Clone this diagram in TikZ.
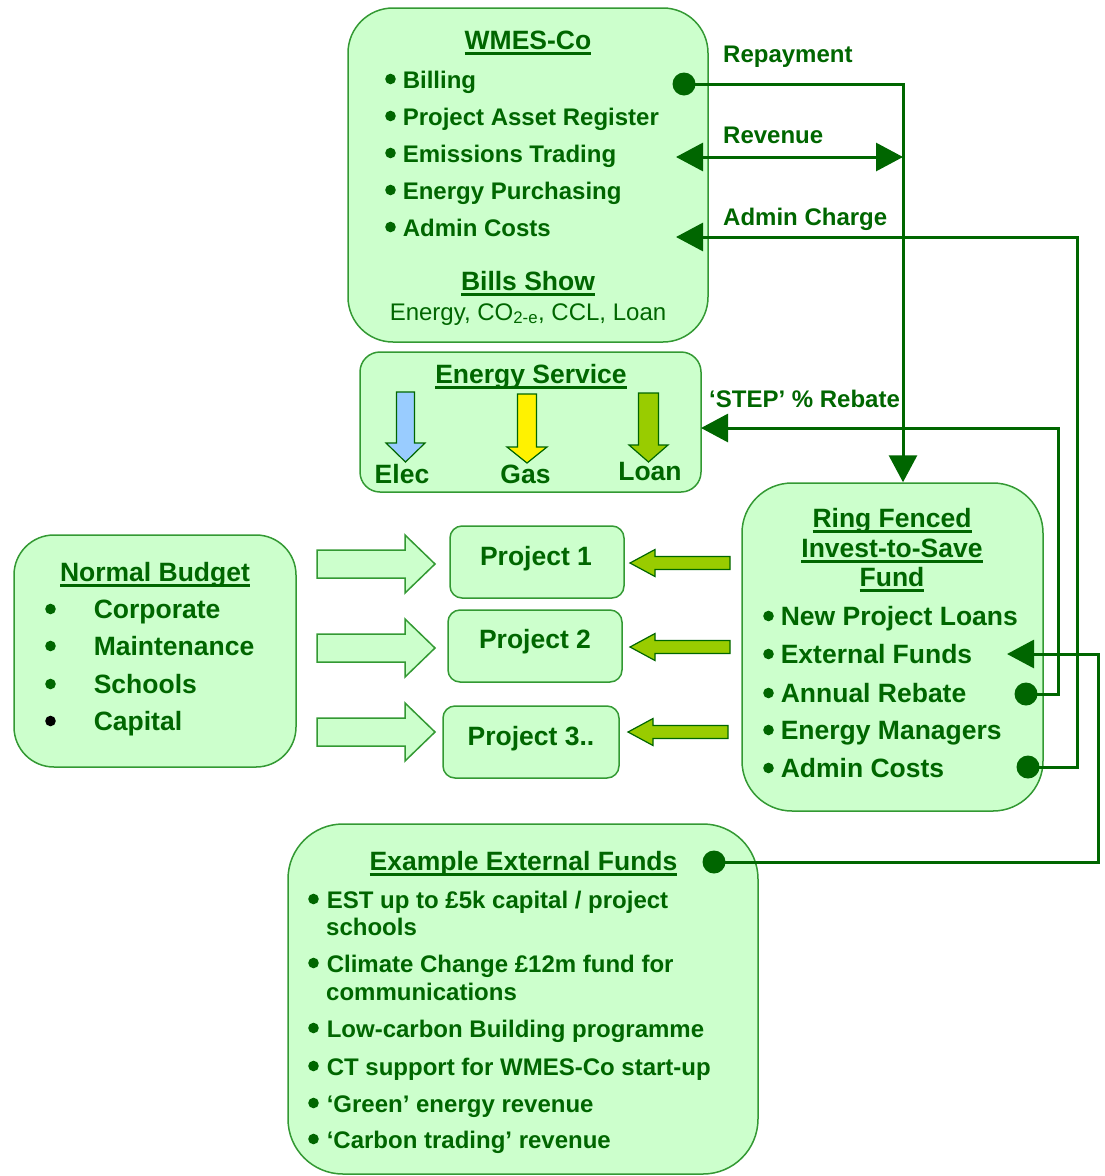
\documentclass[tikz,border=0pt]{standalone}
\usepackage{fontspec}
\setmainfont{Liberation Sans}
\usetikzlibrary{arrows.meta}
\definecolor{dkg}{HTML}{006600}
\definecolor{bord}{HTML}{339933}
\definecolor{fillg}{HTML}{CCFFCC}
\definecolor{lime}{HTML}{99CC00}
\definecolor{elecc}{HTML}{99CCFF}
\newcommand{\myul}[1]{\leavevmode\setbox0=\hbox{#1}\rlap{\color{dkg}\rule[-5.5pt]{\wd0}{2.4pt}}\box0}
\newcommand{\bul}[2][dkg]{\tikz[baseline=0pt]\fill[#1] (0pt,9pt) circle[radius=5.3pt];\hspace{#2}}
\tikzset{
  box/.style={draw=bord, fill=fillg, line width=1.5pt, inner sep=0pt},
  ttl/.style={inner sep=0pt, anchor=base, text=dkg, font=\fontsize{26.5}{30}\selectfont\bfseries},
  big/.style={inner sep=0pt, anchor=base west, text=dkg, font=\fontsize{26.5}{30}\selectfont\bfseries},
  itm/.style={inner sep=0pt, anchor=base west, text=dkg, font=\fontsize{24}{28}\selectfont\bfseries},
  lbl/.style={inner sep=0pt, anchor=base west, text=dkg, font=\fontsize{24}{28}\selectfont\bfseries},
  conn/.style={color=dkg, line width=3pt},
  tip/.tip={Triangle[length=27pt,width=28pt,color=dkg,fill=dkg]},
  dot/.style={circle, fill=dkg, minimum size=23pt, inner sep=0pt},
  blockR/.style={draw=bord, fill=fillg, line width=1.5pt, line join=miter},
  blockL/.style={draw=dkg, fill=lime, line width=1.2pt, line join=miter},
  blockD/.style={draw=dkg, line width=1.2pt, line join=miter},
}
\begin{document}
\begin{tikzpicture}[x=1pt,y=-1pt]
\useasboundingbox (0,0) rectangle (1105,1176);

% ---------- boxes ----------
\node[box, rounded corners=45pt, minimum width=360pt, minimum height=334pt] (wmes) at (528,175) {};
\node[box, rounded corners=20pt, minimum width=341pt, minimum height=140pt] (esvc) at (530.5,422) {};
\node[box, rounded corners=40pt, minimum width=282pt, minimum height=232pt] (budget) at (155,651) {};
\node[box, rounded corners=12pt, minimum width=174pt, minimum height=72pt] (p1) at (537,562) {};
\node[box, rounded corners=12pt, minimum width=174pt, minimum height=72pt] (p2) at (535,646) {};
\node[box, rounded corners=12pt, minimum width=176pt, minimum height=72pt] (p3) at (531,742) {};
\node[box, rounded corners=50pt, minimum width=301pt, minimum height=328pt] (ring) at (892.5,647) {};
\node[box, rounded corners=55pt, minimum width=470pt, minimum height=350pt] (ext) at (523,999) {};

% ---------- WMES-Co ----------
\node[ttl] (tW) at (528,49) {\myul{WMES-Co}};
\node[itm] (w1) at (385,88) {\bul{7pt}Billing};
\node[itm] (w2) at (385,125) {\bul{7pt}Project Asset Register};
\node[itm] (w3) at (385,162) {\bul{7pt}Emissions Trading};
\node[itm] (w4) at (385,199) {\bul{7pt}Energy Purchasing};
\node[itm] (w5) at (385,236) {\bul{7pt}Admin Costs};
\node[ttl] (tB) at (528,290) {\myul{Bills Show}};
\node[inner sep=0pt, anchor=base, text=dkg, font=\fontsize{24}{28}\selectfont] (bl) at (528,320) {Energy, CO\textsubscript{2-e}, CCL, Loan};

% ---------- Energy Service ----------
\node[ttl] (tE) at (531,383) {\myul{Energy Service}};
\draw[blockD, fill=elecc] (396.5,392) -- (414.5,392) -- (414.5,443) -- (425,443) -- (405.5,462) -- (386,443) -- (396.5,443) -- cycle;
\draw[blockD, fill=yellow] (517.5,394) -- (536.5,394) -- (536.5,447) -- (547,447) -- (527,463) -- (507,447) -- (517.5,447) -- cycle;
\draw[blockD, fill=lime] (638.5,393) -- (658.5,393) -- (658.5,445) -- (668,445) -- (648.5,462) -- (629,445) -- (638.5,445) -- cycle;
\node[ttl] (eE) at (402,483) {Elec};
\node[ttl] (eG) at (525.5,483) {Gas};
\node[ttl] (eL) at (650,480) {Loan};

% ---------- Normal Budget ----------
\node[ttl] (tN) at (155,581) {\myul{Normal Budget}};
\node[big] (n1) at (45,618) {\bul{38pt}Corporate};
\node[big] (n2) at (45,655) {\bul{38pt}Maintenance};
\node[big] (n3) at (45,693) {\bul{38pt}Schools};
\node[big] (n4) at (45,730) {\bul[black]{38pt}Capital};

% ---------- Projects ----------
\node[ttl] (tp1) at (536,565) {Project 1};
\node[ttl] (tp2) at (535,648) {Project 2};
\node[ttl] (tp3) at (531,745) {Project 3..};

\foreach \c in {564,648,732}
  \draw[blockR] (317,\c-14) -- (405,\c-14) -- (405,\c-29) -- (435,\c) -- (405,\c+29) -- (405,\c+14) -- (317,\c+14) -- cycle;

\draw[blockL] (730,556.5) -- (655,556.5) -- (655,549.5) -- (630,563) -- (655,576.5) -- (655,569.5) -- (730,569.5) -- cycle;
\draw[blockL] (730,640.5) -- (655,640.5) -- (655,633.5) -- (630,647) -- (655,660.5) -- (655,653.5) -- (730,653.5) -- cycle;
\draw[blockL] (728,725.5) -- (653,725.5) -- (653,718.5) -- (628,732) -- (653,745.5) -- (653,738.5) -- (728,738.5) -- cycle;

% ---------- Ring Fenced ----------
\node[ttl] (tR1) at (892,527) {\myul{Ring Fenced}};
\node[ttl] (tR2) at (892,557) {\myul{Invest-to-Save}};
\node[ttl] (tR3) at (892,586) {\myul{Fund}};
\node[big] (r1) at (763,625) {\bul{7pt}New Project Loans};
\node[big] (r2) at (763,663) {\bul{7pt}External Funds};
\node[big] (r3) at (763,702) {\bul{7pt}Annual Rebate};
\node[big] (r4) at (763,739) {\bul{7pt}Energy Managers};
\node[big] (r5) at (763,777) {\bul{7pt}Admin Costs};

% ---------- Example External Funds ----------
\node[ttl] (tX) at (523.5,870) {\myul{Example External Funds}};
\node[itm] (x1) at (308,908) {\bul{8pt}EST up to £5k capital / project};
\node[itm] (x1b) at (326,935) {schools};
\node[itm] (x2) at (308,972) {\bul{8pt}Climate Change £12m fund for};
\node[itm] (x2b) at (326,1000) {communications};
\node[itm] (x3) at (308,1037) {\bul{8pt}Low-carbon Building programme};
\node[itm] (x4) at (308,1075) {\bul{8pt}CT support for WMES-Co start-up};
\node[itm] (x5) at (308,1112) {\bul{8pt}‘Green’ energy revenue};
\node[itm] (x6) at (308,1148) {\bul{8pt}‘Carbon trading’ revenue};

% ---------- connector labels ----------
\node[lbl] (lRep) at (723,62) {Repayment};
\node[lbl] (lRev) at (723,143) {Revenue};
\node[lbl] (lAdm) at (723,225) {Admin Charge};
\node[lbl] (lStep) at (709,407) {‘STEP’ \% Rebate};

% ---------- connectors ----------
\node[dot] (dBill) at (684,84) {};
\node[dot] (dReb) at (1026,694) {};
\node[dot] (dAdm) at (1028,767) {};
\node[dot] (dExt) at (714,862) {};
\coordinate (rpT) at (903,84);
\coordinate (revL) at (676,157);
\coordinate (revR) at (903,157);
\coordinate (acL) at (676,237);
\coordinate (acR) at (1077,237);
\coordinate (stL) at (701,428);
\coordinate (stR) at (1058,428);
\coordinate (efT) at (1007,654);
\coordinate (efR) at (1098,654);

\draw[conn, -tip] (dAdm.center) -- (dAdm.center -| acR) -- (acR) -- (acL);
\draw[conn, -tip] (dReb.center) -- (dReb.center -| stR) -- (stR) -- (stL);
\draw[conn, -tip] (dExt.center) -- (dExt.center -| efR) -- (efR) -- (efT);
\draw[conn, tip-tip] (revL) -- (revR);
\draw[conn, -tip] (dBill.center) -- (rpT) -- (rpT |- ring.north);
\end{tikzpicture}
\end{document}
